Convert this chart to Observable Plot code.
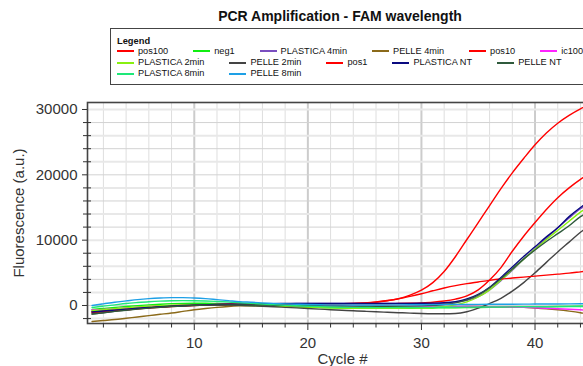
<!DOCTYPE html>
<html><head><meta charset="utf-8">
<script src="https://cdn.jsdelivr.net/npm/d3@7"></script>
<script src="https://cdn.jsdelivr.net/npm/@observablehq/plot@0.6"></script>
<style>
html,body{margin:0;padding:0;background:#fff;overflow:hidden;width:583px;height:366px;}
#wrap{position:relative;width:583px;height:366px;overflow:hidden;font-family:"Liberation Sans",Arial,sans-serif;color:#111;}
#title{position:absolute;left:0;top:8px;width:680px;text-align:center;font-weight:bold;font-size:14px;line-height:17px;}
#legend{position:absolute;left:110px;top:28px;width:640px;height:57px;border:1.5px solid #444;box-sizing:border-box;background:#fff;}
#legtitle{position:absolute;left:6px;top:7px;font-weight:bold;font-size:9.3px;line-height:11px;}
#items{position:absolute;left:6px;top:16.7px;width:520px;display:flex;flex-wrap:wrap;column-gap:25px;}
.item{display:flex;align-items:center;font-size:9.2px;line-height:11.3px;white-space:nowrap;}
.sw{display:inline-block;width:17px;height:2px;margin-right:4px;}
#chart{position:absolute;left:0;top:84px;width:600px;height:282px;}
#chart svg{max-width:none !important;}
</style>
</head><body>
<div id="wrap">
  <div id="title">PCR Amplification - FAM wavelength</div>
  <div id="legend"><div id="legtitle">Legend</div><div id="items"></div></div>
  <div id="chart"></div>
</div>
<script>
const cycles = [1,2,3,4,5,6,7,8,9,10,11,12,13,14,15,16,17,18,19,20,21,22,23,24,25,26,27,28,29,30,31,32,33,34,35,36,37,38,39,40,41,42,43,44,45];

const seriesNames = ["pos100","neg1","PLASTICA 4min","PELLE 4min","pos10","ic100","PLASTICA 2min","PELLE 2min","pos1","PLASTICA NT","PELLE NT","PLASTICA 8min","PELLE 8min"];
const seriesColors = ["#ff0000","#11ee11","#7a4fc0","#8b6a1a","#ff0000","#ff22ff","#88f010","#444444","#ff0000","#0a0a80","#2f5a3c","#1ee878","#1ea0e6"];

const pos100 = [-900,-750,-600,-460,-330,-210,-110,-30,40,100, 150,190,220,240,250,260,260,260,260,260, 260,270,290,320,380,500,720,1050,1600,2350, 3500,5200,7500,10100,12700,15300,17900,20300,22500,24600, 26400,27900,29100,30100,30900];
const neg1 = [-600,-450,-300,-150,-20,100,200,280,330,350, 340,300,240,170,100,30,-40,-110,-170,-230, -290,-340,-380,-410,-430,-440,-440,-430,-420,-400, -380,-360,-340,-320,-300,-280,-260,-240,-220,-200, -180,-160,-140,-120,-100];
const plastica4 = [-900,-760,-620,-490,-370,-260,-160,-80,-10,50, 100,150,190,220,240,260,275,285,295,300, 305,305,305,305,305,305,305,305,305,305, 320,370,500,800,1350,2400,3800,5400,7100,8700, 10300,11900,13400,14800,15900];
const pelle4 = [-2450,-2300,-2150,-1950,-1750,-1550,-1350,-1150,-900,-650, -450,-280,-150,-60,0,20,20,0,-30,-60, -90,-120,-150,-170,-190,-200,-210,-210,-210,-200, -190,-180,-170,-160,-160,-170,-190,-230,-290,-380, -500,-660,-860,-1100,-1400];
const pos10 = [-1000,-850,-700,-560,-430,-310,-200,-110,-30,40, 100,150,190,220,240,250,255,255,255,255, 255,255,255,258,260,265,275,300,340,400, 500,680,980,1480,2400,3900,5800,8300,10600,12700, 14700,16500,18000,19300,20400];
const ic100 = [-700,-600,-480,-370,-260,-160,-80,-20,20,50, 60,60,50,30,10,-10,-30,-50,-70,-90, -100,-110,-120,-130,-130,-130,-130,-130,-130,-130, -130,-130,-140,-150,-160,-180,-200,-240,-290,-350, -420,-500,-580,-660,-740];
const plastica2 = [-800,-650,-500,-360,-230,-120,-30,40,90,110, 110,90,60,20,-30,-80,-130,-180,-230,-280, -320,-360,-390,-410,-430,-440,-440,-430,-400,-360, -300,-180,100,550,1300,2400,3900,5500,7100,8600, 10100,11500,12900,14300,15400];
const pelle2 = [-1300,-1100,-900,-700,-520,-360,-220,-100,0,60, 90,90,60,20,-40,-110,-190,-280,-370,-460, -550,-640,-730,-810,-890,-960,-1030,-1100,-1160,-1220, -1260,-1270,-1230,-950,-400,300,1100,2200,3500,5000, 6600,8200,9700,11200,12500];
const pos1 = [-1100,-950,-800,-650,-510,-380,-260,-160,-70,0, 60,110,150,180,200,215,225,235,240,250, 255,265,285,320,400,540,760,1040,1400,1800, 2250,2680,3050,3350,3600,3850,4050,4200,4350,4500, 4650,4800,4950,5150,5350];
const plasticaNT = [-1000,-850,-700,-560,-430,-310,-200,-110,-30,40, 100,150,190,220,250,270,290,300,310,320, 330,330,330,330,330,330,330,330,330,340, 360,420,600,1000,1700,2800,4300,5900,7500,9000, 10500,11900,13600,15000,16200];
const pelleNT = [-1300,-1100,-900,-720,-550,-400,-270,-160,-70,0, 50,80,90,90,80,60,40,20,0,-20, -40,-60,-80,-100,-110,-120,-120,-110,-90,-50, 20,150,400,850,1600,2700,4100,5600,7100,8500, 9800,11000,12200,13600,14500];
const plastica8 = [-300,-100,100,300,450,580,670,720,740,730, 690,620,530,430,330,230,130,40,-40,-110, -170,-220,-260,-290,-310,-320,-320,-310,-300,-290, -280,-270,-260,-250,-240,-230,-220,-210,-200,-190, -180,-170,-160,-150,-140];
const pelle8 = [0,250,500,700,900,1050,1150,1200,1200,1150, 1050,900,750,600,500,400,320,250,200,150, 120,100,90,80,80,80,90,100,110,120, 130,140,150,160,170,180,190,200,210,220, 230,240,250,260,270];

const seriesValues = [pos100,neg1,plastica4,pelle4,pos10,ic100,plastica2,pelle2,pos1,plasticaNT,pelleNT,plastica8,pelle8];

const xMajorTicks = [10,20,30,40];
const xMinorTicks = [2,4,6,8,12,14,16,18,22,24,26,28,32,34,36,38,42,44];
const yMajorTicks = [0,10000,20000,30000];
const yMinorTicks = [-2000,2000,4000,6000,8000,12000,14000,16000,18000,22000,24000,26000,28000];
const yGridA = [-2000,2000,6000,10000,14000,18000,22000,26000,30000];
const yGridB = [0,4000,8000,12000,16000,20000,24000,28000];

// legend
const items = document.getElementById("items");
seriesNames.forEach((n, i) => {
  const d = document.createElement("div");
  d.className = "item";
  d.innerHTML = `<span class="sw" style="background:${seriesColors[i]}"></span><span>${n}</span>`;
  items.appendChild(d);
});

const table = [];
seriesNames.forEach((n, i) => {
  cycles.forEach((c, j) => table.push({series: n, cycle: c, value: seriesValues[i][j]}));
});

const chart = Plot.plot({
  width: 600, height: 282,
  marginTop: 18, marginBottom: 43, marginLeft: 87, marginRight: 3,
  style: {fontFamily: "Liberation Sans, Arial, sans-serif", fontSize: "15px", color: "#333", background: "transparent", maxWidth: "none"},
  x: {domain: [0.6, 45.5]},
  y: {domain: [-2755, 31070]},
  color: {domain: seriesNames, range: seriesColors},
  marks: [
    Plot.gridX(xMinorTicks, {stroke: "#dedede", strokeOpacity: 1, strokeWidth: 1}),
    Plot.gridX(xMajorTicks, {stroke: "#cccccc", strokeOpacity: 1, strokeWidth: 2}),
    Plot.gridY(yGridA, {stroke: "#e8e8e8", strokeOpacity: 1, strokeWidth: 2}),
    Plot.gridY(yGridB, {stroke: "#d2d2d2", strokeOpacity: 1, strokeWidth: 1}),
    Plot.line(table, {x: "cycle", y: "value", z: "series", stroke: "series", strokeWidth: 1.4, curve: "monotone-x", clip: true}),
    Plot.frame({stroke: "#444", strokeWidth: 1.6}),
    Plot.axisX(xMinorTicks, {tickSize: 4.5, tickFormat: () => "", label: null, stroke: "#333"}),
    Plot.axisX(xMajorTicks, {tickSize: 7, tickPadding: 6.6, tickFormat: d => String(d), label: "Cycle #", labelAnchor: "center", labelArrow: "none", labelOffset: 40, stroke: "#333", fill: "#333"}),
    Plot.axisY(yMinorTicks, {tickSize: 4, tickFormat: () => "", label: null, stroke: "#333"}),
    Plot.axisY(yMinorTicks, {tickSize: -4, tickFormat: () => "", label: null, stroke: "#333"}),
    Plot.axisY(yMajorTicks, {tickSize: 5, tickPadding: 5, tickFormat: d => String(d), label: "Fluorescence (a.u.)", labelAnchor: "center", labelArrow: "none", labelOffset: 74, stroke: "#333", fill: "#333"})
  ]
});
document.getElementById("chart").appendChild(chart);
</script>
</body></html>
